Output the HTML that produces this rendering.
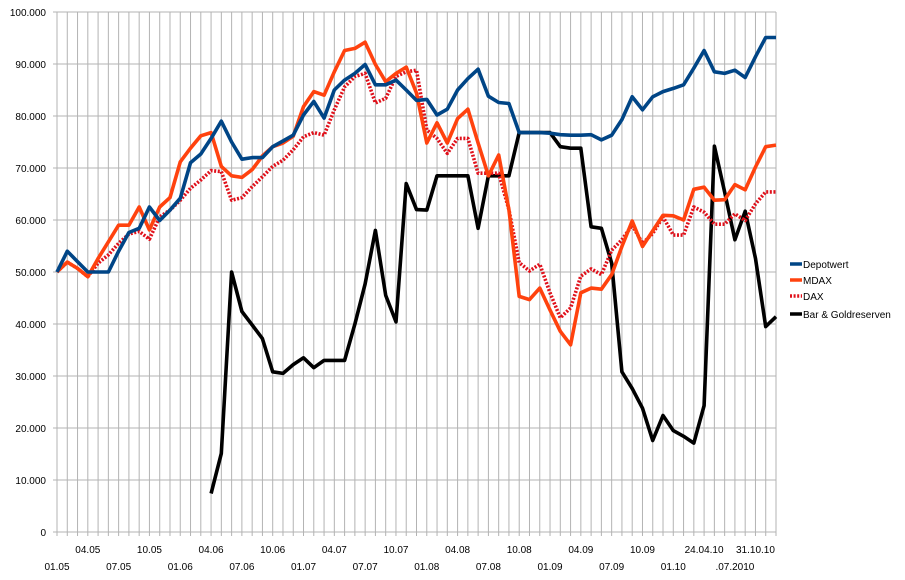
<!DOCTYPE html>
<html><head><meta charset="utf-8"><style>
body{margin:0;background:#fff;}
svg{display:block;font-family:"Liberation Sans",sans-serif;}
</style></head><body>
<svg id="chart" width="905" height="580"></svg>
<script>
const categoryCount = 71;
const xTickIdx = [0,3,6,9,12,15,18,21,24,27,30,33,36,39,42,45,48,51,54,57,60,63,66,68];
const xTickLabels = ["01.05","04.05","07.05","10.05","01.06","04.06","07.06","10.06","01.07","04.07","07.07","10.07","01.08","04.08","07.08","10.08","01.09","04.09","07.09","10.09","01.10","24.04.10",".07.2010","31.10.10"];
const yTicks = [0,10000,20000,30000,40000,50000,60000,70000,80000,90000,100000];
const yTickLabels = ["0","10.000","20.000","30.000","40.000","50.000","60.000","70.000","80.000","90.000","100.000"];
const seriesNames = ["Depotwert","MDAX","DAX","Bar & Goldreserven"];
const depotwert = [50,54,52,50,50,50,54,57.6,58.4,62.5,59.9,61.9,64.2,71,72.7,75.7,79,75,71.7,72,72,74.1,75.2,76.3,80.2,82.8,79.6,85,86.9,88.2,89.9,86,86,86.9,85,83,83.2,80.2,81.3,85,87.2,89,83.8,82.6,82.4,76.8,76.8,76.8,76.7,76.4,76.3,76.3,76.4,75.4,76.3,79.3,83.7,81.2,83.7,84.7,85.3,86,89.2,92.6,88.5,88.2,88.8,87.4,91.4,95.1,95.1];
const mdax = [50,51.9,50.7,49.1,52.6,55.8,59,59,62.5,58.1,62.5,64.3,71.2,73.8,76.2,76.8,70.3,68.5,68.2,69.7,72.3,74.1,74.8,76.1,81.8,84.7,84,88.5,92.6,93,94.2,89.9,86.6,88.2,89.4,84.4,74.8,78.7,74.8,79.5,81.3,74.8,68.5,72.5,62,45.3,44.7,46.9,42.7,38.6,36,46,46.9,46.7,49.5,54.9,59.8,54.9,57.9,60.9,60.8,60,65.9,66.3,63.8,63.9,66.8,65.8,70.2,74.1,74.4];
const dax = [50,51.9,50.7,49.1,51.7,53.3,55.5,57.3,57.8,56.3,60.6,61.9,63.8,66.1,67.7,69.5,69.3,63.8,64.3,66.4,68.3,70.3,71.5,73.5,76,76.8,76.3,81.2,85.6,87.6,88.2,82.5,83.4,87.6,88.5,88.8,77.3,75.7,72.8,75.7,75.7,69,69,69,62,51.8,50.2,51.5,46,41.2,43.1,49.2,50.6,49.5,54.2,56.2,59,55.5,57.4,60.6,57.1,57.1,62.5,61.5,59.2,59.2,61.2,59.9,63.1,65.4,65.4];
const gold = [null,null,null,null,null,null,null,null,null,null,null,null,null,null,null,7.4,15.1,50,42.4,39.8,37.2,30.8,30.5,32.2,33.5,31.6,33,33,33,40,47.7,58,45.5,40.4,67,62,61.9,68.5,68.5,68.5,68.5,58.4,68.5,68.5,68.5,76.8,76.8,76.8,76.8,74.1,73.8,73.8,58.7,58.4,51.7,30.8,27.6,23.8,17.6,22.4,19.5,18.4,17.1,24.3,74.2,65.4,56.2,61.7,52.6,39.5,41.4];

const NS="http://www.w3.org/2000/svg";
const svg=document.getElementById('chart');
const X0=57, X1=776, Y0=532, Y1=12;
const xs=i=>X0+i*(X1-X0)/(categoryCount-1);
const ys=v=>Y0-(v/100000)*(Y0-Y1);
function mk(tag,attrs,parent){const e=document.createElementNS(NS,tag);for(const k in attrs)e.setAttribute(k,attrs[k]);(parent||svg).appendChild(e);return e;}

const grid=mk('g',{});


for(let i=0;i<categoryCount;i++){
  const l=mk('line',{x1:xs(i),x2:xs(i),y1:Y1,y2:Y0+4,stroke:'#b3b3b3','stroke-width':1},grid);
  
  
}
yTicks.forEach((v,k)=>{
  const l=mk('line',{x1:X0-4,x2:X1,y1:ys(v),y2:ys(v),stroke:'#b3b3b3','stroke-width':1},grid);
  
  
  const t=mk('text',{x:46,y:ys(v)+4,'text-anchor':'end','font-size':10,fill:'#000'});
  t.textContent=yTickLabels[k];
  
  
});
xTickIdx.forEach((idx,k)=>{
  const row=(k%2===0)?1:0;
  const t=mk('text',{x:xs(idx),y:row?570:553,'text-anchor':'middle','font-size':10,fill:'#000'});
  t.textContent=xTickLabels[k];
  
  
});

function path(data){let d='',pen=false;data.forEach((v,i)=>{if(v==null){pen=false;return;}d+=(pen?'L':'M')+xs(i).toFixed(1)+','+ys(v*1000).toFixed(1);pen=true;});return d;}
const styles=[
 {c:'#004586',dash:null},{c:'#ff420e',dash:null},{c:'#e0101a',dash:'2,1.6'},{c:'#000000',dash:null}];
const datas=[depotwert,mdax,dax,gold];
const names=['series-depotwert','series-mdax','series-dax','series-bar-goldreserven'];
[3,2,1,0].forEach(k=>{
  const a={d:path(datas[k]),fill:'none',stroke:styles[k].c,'stroke-width':3.6,'stroke-linejoin':'round'};
  if(styles[k].dash)a['stroke-dasharray']=styles[k].dash;
  const p=mk('path',a);
  
  
});
const leg=mk('g',{});


const legY=[264,280,296,314];
seriesNames.forEach((n,k)=>{
  const a={x1:790,x2:802,y1:legY[k],y2:legY[k],stroke:styles[k].c,'stroke-width':3.5};
  if(styles[k].dash)a['stroke-dasharray']=styles[k].dash;
  const l=mk('line',a,leg);
  
  
  const t=mk('text',{x:803,y:legY[k]+4,'font-size':10,fill:'#000'},leg);
  t.textContent=n;
  
  
});
</script>
</body></html>
